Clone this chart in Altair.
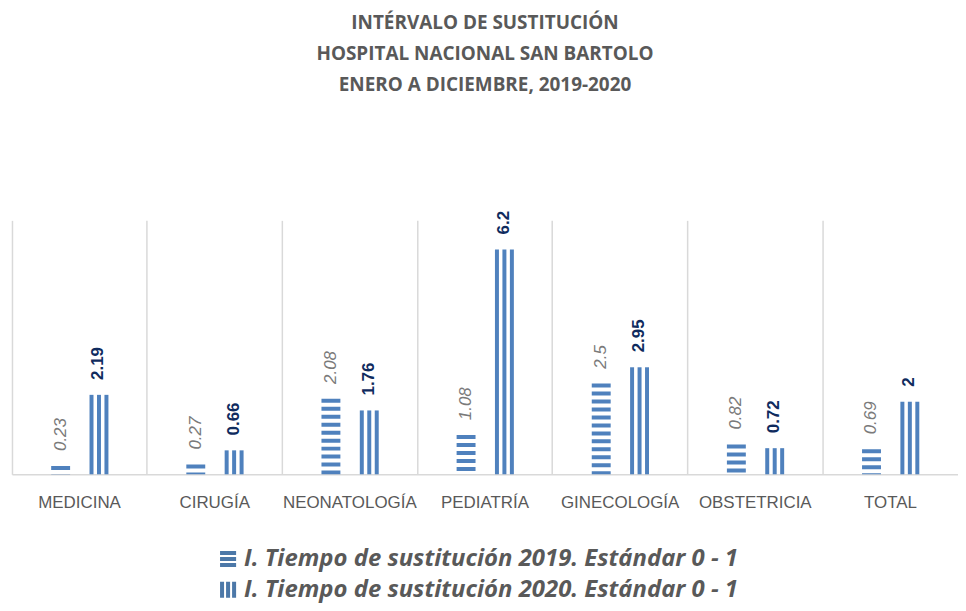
import altair as alt
import pandas as pd

categories = ["MEDICINA", "CIRUGÍA", "NEONATOLOGÍA", "PEDIATRÍA", "GINECOLOGÍA", "OBSTETRICIA", "TOTAL"]
values_2019 = [0.23, 0.27, 2.08, 1.08, 2.5, 0.82, 0.69]
values_2020 = [2.19, 0.66, 1.76, 6.2, 2.95, 0.72, 2]
series_names = [
    "I. Tiempo de sustitución 2019. Estándar 0 - 1",
    "I. Tiempo de sustitución 2020. Estándar 0 - 1",
]
title_lines = [
    "INTÉRVALO DE SUSTITUCIÓN",
    "HOSPITAL NACIONAL SAN BARTOLO",
    "ENERO A DICIEMBRE, 2019-2020",
]

rows = []
for c, v in zip(categories, values_2019):
    rows.append({"cat": c, "serie": series_names[0], "valor": v})
for c, v in zip(categories, values_2020):
    rows.append({"cat": c, "serie": series_names[1], "valor": v})
df = pd.DataFrame(rows)

BLUE = "#4F81BD"
GRAY_TXT = "#595959"

x = alt.X(
    "cat:N",
    sort=categories,
    scale=alt.Scale(paddingInner=0, paddingOuter=0),
    axis=alt.Axis(
        title=None, grid=True, bandPosition=0, ticks=False, labelAngle=0,
        labelOverlap=False, labelPadding=20, labelFont="Liberation Sans",
        labelFontSize=17, labelColor=GRAY_TXT, labelLimit=300,
        domainColor="#d9d9d9", domainWidth=1.5, gridColor="#d9d9d9", gridWidth=1.5,
    ),
)
y = alt.Y("valor:Q", scale=alt.Scale(domain=[0, 7]), axis=None)

base = alt.Chart(df)
d19 = base.transform_filter(alt.datum.serie == series_names[0])
d20 = base.transform_filter(alt.datum.serie == series_names[1])

layers = []
# 2019: horizontal stripes
layers.append(
    d19.mark_rule(color=BLUE, strokeWidth=19, strokeDash=[4, 4], xOffset=-19)
    .encode(x=x, y=y, y2=alt.datum(0))
)
# 2020: vertical stripes
for off in [12, 19.5, 27]:
    layers.append(
        d20.mark_rule(color=BLUE, strokeWidth=4, xOffset=off)
        .encode(x=x, y=y, y2=alt.datum(0))
    )

layers.append(
    d19.mark_text(angle=270, align="left", baseline="middle", dx=15, xOffset=-19,
                  font="Liberation Sans", fontSize=17, fontStyle="italic", color="#7a7a7a")
    .encode(x=x, y=y, text=alt.Text("valor:Q", format="~g"))
)
layers.append(
    d20.mark_text(angle=270, align="left", baseline="middle", dx=15, xOffset=19,
                  font="Liberation Sans", fontSize=17, fontWeight="bold", color="#0f2b5e")
    .encode(x=x, y=y, text=alt.Text("valor:Q", format="~g"))
)

path_h = "M-1,-1H1V-0.5H-1Z M-1,-0.25H1V0.25H-1Z M-1,0.5H1V1H-1Z"
path_v = "M-1,-1H-0.5V1H-1Z M-0.25,-1H0.25V1H-0.25Z M0.5,-1H1V1H0.5Z"

layers.append(
    base.mark_point(filled=True, opacity=0).encode(
        x=x, y=y,
        shape=alt.Shape(
            "serie:N",
            scale=alt.Scale(domain=series_names, range=[path_h, path_v]),
            legend=alt.Legend(
                orient="none", legendX=205, legendY=328, direction="vertical",
                title=None, padding=0, labelFont="Open Sans", labelFontSize=24,
                labelFontStyle="italic", labelFontWeight="bold", labelColor=GRAY_TXT,
                symbolSize=260, symbolFillColor=BLUE, symbolStrokeWidth=0,
                symbolOpacity=1, rowPadding=7, labelOffset=4, labelLimit=800,
            ),
        ),
    )
)

chart = alt.layer(*layers).properties(
    width=950,
    height=255,
    autosize=alt.AutoSizeParams(type="none"),
    padding={"left": 4, "top": 212, "right": 0, "bottom": 128},
    title=alt.TitleParams(
        text=title_lines, fontSize=19, font="Open Sans", fontWeight="bold",
        color=GRAY_TXT, lineHeight=31.5, offset=116, anchor="middle", frame="group",
    ),
).configure_view(stroke=None)

chart.save("out.html", embed_options={"renderer": "svg", "actions": False})
